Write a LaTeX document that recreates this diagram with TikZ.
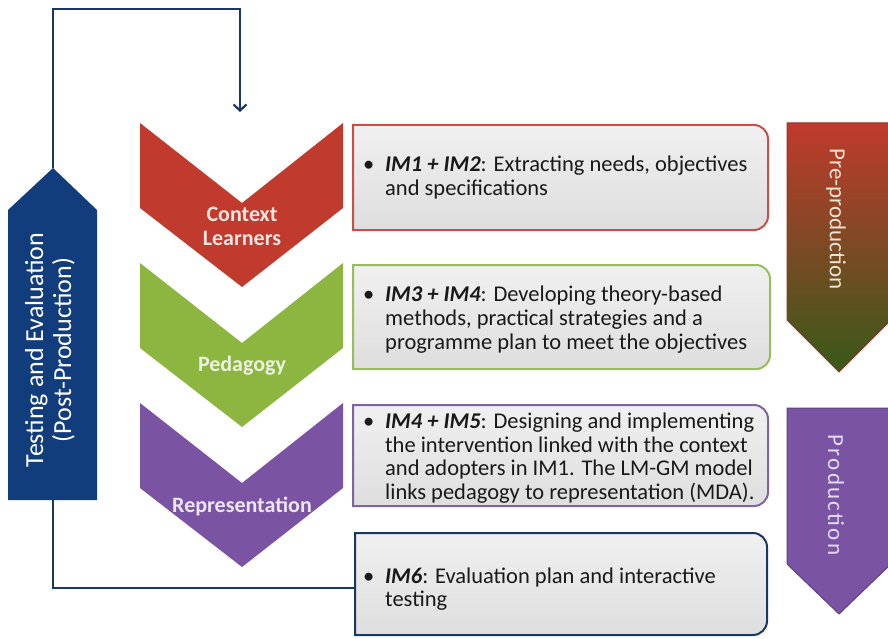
\documentclass[tikz,border=0pt]{standalone}
\usepackage{fontspec}
\setmainfont{Carlito}
\newfontfamily\spacedfont[LetterSpace=10]{Carlito}
\usepackage{tikz}
\usetikzlibrary{arrows.meta,positioning,calc}

\definecolor{ctxred}{RGB}{192,58,45}
\definecolor{pedgreen}{RGB}{141,182,64}
\definecolor{reppurple}{RGB}{122,84,162}
\definecolor{tevblue}{RGB}{18,61,125}
\definecolor{redline}{RGB}{200,80,75}
\definecolor{greenline}{RGB}{150,190,90}
\definecolor{purpleline}{RGB}{128,100,162}
\definecolor{blueline}{RGB}{23,55,100}
\definecolor{boxtop}{RGB}{240,240,240}
\definecolor{boxbot}{RGB}{222,222,222}
\definecolor{predark}{RGB}{55,90,25}
\definecolor{preedge}{RGB}{150,50,40}
\definecolor{prodedge}{RGB}{95,65,130}
\definecolor{inktext}{RGB}{25,25,25}
\definecolor{ctxtext}{RGB}{245,228,224}
\definecolor{pedtext}{RGB}{236,242,226}
\definecolor{reptext}{RGB}{236,230,245}
\definecolor{pretext}{RGB}{238,228,212}
\definecolor{prodtext}{RGB}{228,218,242}

\tikzset{
  boxshade/.style={top color=boxtop, bottom color=boxbot, line width=2pt},
  boxtext/.style={anchor=west, align=left, inner sep=0pt, text=inktext,
    font=\fontsize{22.5}{24}\selectfont},
  narrowtext/.style={boxtext, font=\fontsize{22.5}{23.5}\selectfont},
  chevlabel/.style={align=center, inner sep=0pt,
    font=\fontsize{22}{24}\selectfont\bfseries},
  sidelabel/.style={rotate=-90, inner sep=0pt, font=\fontsize{23}{25}\selectfont},
  loopline/.style={draw=blueline, line width=2.2pt}
}

\begin{document}
\begin{tikzpicture}[x = 1pt, y = -1pt]
\useasboundingbox (0,0) rectangle (888,639);

% chevrons on the left
\fill[ctxred] (140,123) -- (242,203) -- (343,123) -- (343,208) -- (242,287) -- (140,208) -- cycle;
\fill[pedgreen] (140,263) -- (242,343) -- (343,263) -- (343,348) -- (242,427) -- (140,348) -- cycle;
\fill[reppurple] (140,403) -- (242,483) -- (343,403) -- (343,488) -- (242,567) -- (140,488) -- cycle;

\node[chevlabel, text=ctxtext] (ctx) at (242,226) {Context\\Learners};
\node[chevlabel, text=pedtext] (ped) at (242,366) {Pedagogy};
\node[chevlabel, text=reptext] (rep) at (242,506) {Representation};

% testing and evaluation
\fill[tevblue] (8,210) -- (53,168) -- (97,210) -- (97,500) -- (8,500) -- cycle;
\node[rotate=90, align=center, text=white, inner sep=0pt,
  font=\fontsize{26}{28}\selectfont] (tev) at (50,350) {Testing and Evaluation\\(Post-Production)};

% boxes
\path[boxshade, draw=redline] (560,125) [rounded corners=14pt] -- (768,125) -- (768,230) -- (560,230)
  [sharp corners] -- (353,230) -- (353,125) -- cycle;
\path[boxshade, draw=greenline] (560,265) [rounded corners=14pt] -- (770,265) -- (770,369) -- (560,369)
  [sharp corners] -- (353,369) -- (353,265) -- cycle;
\path[boxshade, draw=purpleline] (560,405) [rounded corners=14pt] -- (768,405) -- (768,506) -- (560,506)
  [sharp corners] -- (353,506) -- (353,405) -- cycle;
\path[boxshade, draw=blueline] (560,533) [rounded corners=14pt] -- (767,533) -- (767,635) -- (560,635)
  [sharp corners] -- (355,635) -- (355,533) -- cycle;

\node[boxtext] (im12) at (385,178) {\llap{\textbullet\hspace{11pt}}\textbf{\textit{IM1 + IM2}}: Extracting needs, objectives\\and specifications};
\node[boxtext] (im34) at (385,320) {\llap{\textbullet\hspace{11pt}}\textbf{\textit{IM3 + IM4}}: Developing theory-based\\methods, practical strategies and a\\programme plan to meet the objectives};
\node[narrowtext] (im45) at (385,458) {\llap{\textbullet\hspace{11pt}}\textbf{\textit{IM4 + IM5}}: Designing and implementing\\the intervention linked with the context\\and adopters in IM1. The LM-GM model\\links pedagogy to representation (MDA).};
\node[narrowtext] (im6) at (385,589) {\llap{\textbullet\hspace{11pt}}\textbf{\textit{IM6}}: Evaluation plan and interactive\\testing};

% phases on the right
\path[top color=ctxred, bottom color=predark, draw=preedge, line width=1pt]
  (787,123) -- (891,123) -- (891,320) -- (839,372) -- (787,320) -- cycle;
\path[fill=reppurple, draw=prodedge, line width=1pt]
  (787,408) -- (891,408) -- (891,564) -- (839,614) -- (787,564) -- cycle;
\node[sidelabel, text=pretext] (pre) at (836,219) {Pre-production};
\node[sidelabel, text=prodtext, font=\spacedfont\fontsize{23}{25}\selectfont] (prod) at (836,495) {Production};

% feedback loop
\coordinate (tevtip) at (53,168);
\coordinate (tevfoot) at (53,500);
\coordinate (loopcorner) at (240,9);
\coordinate (ctxin) at (240,112);
\coordinate (im6in) at (355,588);
\draw[loopline, -{Straight Barb[length=6pt, width=13pt]}] (tevtip) |- (loopcorner) -- (ctxin);
\draw[loopline] (tevfoot) |- (im6in);

\end{tikzpicture}
\end{document}
